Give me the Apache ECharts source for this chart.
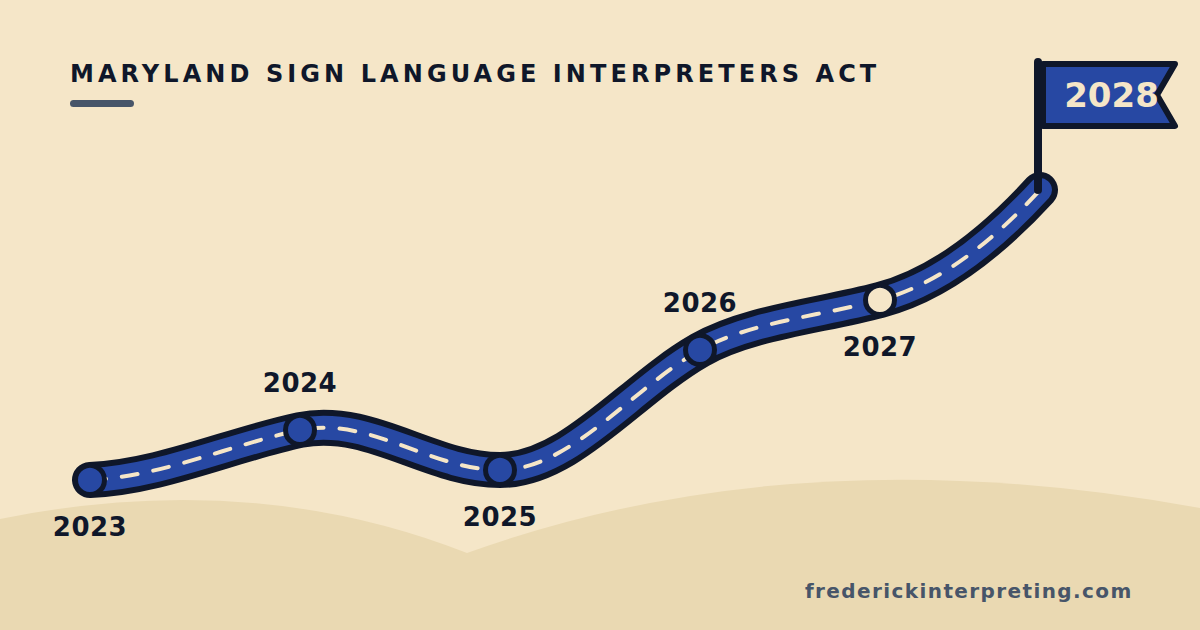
<!DOCTYPE html>
<html><head><meta charset="utf-8">
<style>html,body{margin:0;padding:0;background:#F5E6C8}#c{width:1200px;height:630px}</style>
<script src="https://cdn.jsdelivr.net/npm/echarts@6/dist/echarts.min.js"></script>
</head><body><div id="c"></div>
<script>
const titleText = 'MARYLAND SIGN LANGUAGE INTERPRETERS ACT';
const footerText = 'frederickinterpreting.com';
const milestoneYears = ['2023','2024','2025','2026','2027'];
const milestoneX = [90,300,500,700,880];
const milestoneY = [480,430,470,350,300];
const finalYear = '2028';
const finalX = 1040;
const finalY = 190;
// curve handles read from the road's shape, one pair per stretch between milestones
const handleOutX = [160,370,570,750,930];
const handleOutY = [477,416,470,322,287];
const handleInX = [230,430,630,820,985];
const handleInY = [445,470,390,316,250];

const NAVY='#0F172A', BLUE='#2748A3', CREAM='#F5E6C8', SLATE='#475569', HILL='#EAD9B2';
const FONT='"DejaVu Sans"';
const stopsX = milestoneX.concat([finalX]);
const stopsY = milestoneY.concat([finalY]);
const roadSeries = (name,stroke,lineWidth,extra)=>({
  type:'custom',name,silent:true,animation:false,clip:false,z:3,
  data:stopsX.map((x,i)=>[x,stopsY[i]]),
  renderItem:(params,api)=>{
    if(params.dataIndex!==0) return null;
    const s=api.coord([stopsX[0],stopsY[0]]);
    let d=`M${s[0]} ${s[1]}`;
    handleOutX.forEach((_,i)=>{
      const a=api.coord([handleOutX[i],handleOutY[i]]);
      const b=api.coord([handleInX[i],handleInY[i]]);
      const c=api.coord([stopsX[i+1],stopsY[i+1]]);
      d+=` C${a[0]} ${a[1]} ${b[0]} ${b[1]} ${c[0]} ${c[1]}`;
    });
    return {type:'path',shape:{pathData:d},style:Object.assign({fill:'none',stroke,lineWidth,lineCap:'round',lineJoin:'round'},extra||{})};
  }
});
const hillPath = (a,c,b)=>({
  type:'custom',silent:true,animation:false,clip:false,z:1,data:[[0,0]],
  renderItem:(params,api)=>{
    const A=api.coord(a),C=api.coord(c),B=api.coord(b);
    return {type:'path',shape:{pathData:`M${A[0]} ${A[1]} Q${C[0]} ${C[1]} ${B[0]} ${B[1]} L${B[0]} 630 L${A[0]} 630 Z`},style:{fill:HILL}};
  }
});
const chart = echarts.init(document.getElementById('c'),null,{renderer:'svg'});
chart.setOption({
  animation:false,
  backgroundColor:CREAM,
  grid:{left:0,right:0,top:0,bottom:0},
  xAxis:{type:'value',min:0,max:1200,show:false},
  yAxis:{type:'value',min:0,max:630,inverse:true,show:false},
  title:[
    {text:titleText,left:70,top:62,padding:0,textStyle:{fontFamily:FONT,fontWeight:'bold',fontSize:24,color:NAVY}},
    {text:footerText,left:805,top:581,padding:0,textStyle:{fontFamily:FONT,fontWeight:'bold',fontSize:20,color:SLATE}}
  ],
  graphic:{elements:[
    {type:'rect',silent:true,z:0,shape:{x:70,y:100,width:64,height:7,r:3.5},style:{fill:SLATE}}
  ]},
  series:[
    hillPath([0,519],[250,468],[467,553]),
    hillPath([467,553],[797,434],[1200,508]),
    roadSeries('casing',NAVY,36),
    roadSeries('surface',BLUE,24),
    roadSeries('centre',CREAM,4,{lineDash:[16,16]}),
    {type:'scatter',name:'milestones',silent:true,animation:false,z:5,symbol:'circle',symbolSize:29,
     itemStyle:{opacity:1},
     data:milestoneYears.map((y,i)=>({
       name:y,value:[milestoneX[i],milestoneY[i]],
       itemStyle:{opacity:1,color:i===milestoneYears.length-1?CREAM:BLUE,borderColor:NAVY,borderWidth:5},
       label:{offset:[0,i%2===0?47:-47]}
     })),
     label:{show:true,position:'inside',formatter:p=>p.name,fontFamily:FONT,fontWeight:'bold',fontSize:26,color:NAVY}
    },
    {type:'custom',name:'flag',silent:true,animation:false,z:6,clip:false,
     data:[{name:finalYear,value:[finalX,finalY]}],
     renderItem:(params,api)=>{
       const p=api.coord([api.value(0),api.value(1)]);
       const x=p[0]-2,y=p[1];
       return {type:'group',children:[
         {type:'polygon',shape:{points:[[x+5,y-126],[x+137,y-126],[x+119,y-95],[x+137,y-64],[x+5,y-64]]},
          style:{fill:BLUE,stroke:NAVY,lineWidth:6,lineJoin:'round'}},
         {type:'line',shape:{x1:x,y1:y-128,x2:x,y2:y},style:{stroke:NAVY,lineWidth:8,lineCap:'round'}},
         {type:'text',style:{text:finalYear,x:x+73.5,y:y-95,fill:CREAM,fontFamily:FONT,fontWeight:'bold',fontSize:34,align:'center',verticalAlign:'middle'}}
       ]};
     }
    }
  ]
});
const spacing = {[titleText]:'4.08px',[footerText]:'1.4px'};
milestoneYears.forEach(y=>spacing[y]='0.5px');
document.querySelectorAll('#c svg text').forEach(t=>{
  const s=spacing[t.textContent];
  if(s) t.style.letterSpacing=s;
});
</script></body></html>
